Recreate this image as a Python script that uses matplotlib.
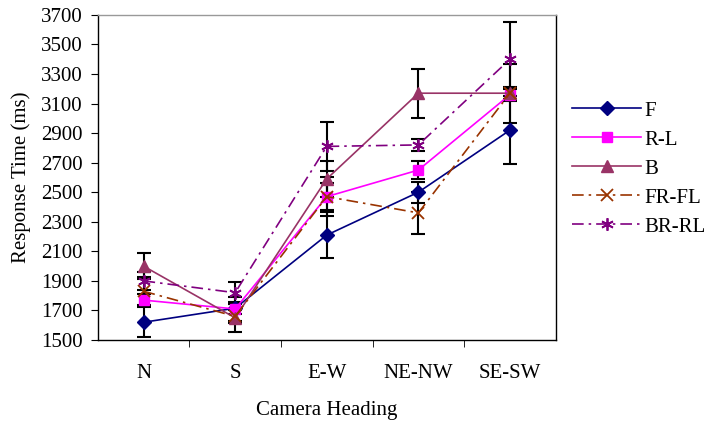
import matplotlib.pyplot as plt
import numpy as np

plt.rcParams['font.family'] = ['Liberation Serif', 'DejaVu Serif']

headings = ['N', 'S', 'E-W', 'NE-NW', 'SE-SW']

f_vals = [1620, 1715, 2210, 2500, 2920]
rl_vals = [1770, 1710, 2470, 2650, 3160]
b_vals = [2000, 1650, 2590, 3170, 3170]
frfl_vals = [1830, 1660, 2470, 2360, 3170]
brrl_vals = [1900, 1820, 2810, 2820, 3400]

f_err = [100, 40, 155, 70, 230]
rl_err = [40, 80, 90, 60, 40]
b_err = [90, 95, 120, 165, 200]
frfl_err = [95, 45, 130, 140, 40]
brrl_err = [60, 75, 165, 40, 250]

series = [
    ('F', f_vals, f_err, '#000080', 'D', '-', 7),
    ('R-L', rl_vals, rl_err, '#FF00FF', 's', '-', 7),
    ('B', b_vals, b_err, '#993366', '^', '-', 8),
    ('FR-FL', frfl_vals, frfl_err, '#993300', 'x', (0, (7, 3, 1.5, 3)), 8),
    ('BR-RL', brrl_vals, brrl_err, '#800080', (6, 2, 0), (0, (7, 3, 1.5, 3)), 9),
]

fig = plt.figure(figsize=(7.08, 4.25), dpi=100)
ax = fig.add_axes([0.138, 0.2, 0.647, 0.765])

x = np.arange(len(headings))

for name, vals, err, color, marker, ls, ms in series:
    ax.errorbar(x, vals, yerr=err, fmt='none', ecolor='black',
                elinewidth=1.5, capsize=5, capthick=1.5, zorder=2)

for name, vals, err, color, marker, ls, ms in series:
    thin = marker == 'x' or isinstance(marker, tuple)
    ax.plot(x, vals, color=color, marker=marker, linestyle=ls, lw=1.2,
            markersize=ms, markeredgewidth=1.3 if thin else 1,
            label=name, zorder=3)

ax.set_xlim(-0.5, 4.5)
ax.set_ylim(1500, 3700)
ax.set_yticks(np.arange(1500, 3701, 200))
ax.set_xticks(x)
ax.set_xticklabels(headings)
ax.set_xticks(np.arange(0.5, 4.5, 1), minor=True)
ax.tick_params(axis='x', which='major', length=0, pad=17, labelsize=15)
ax.tick_params(axis='x', which='minor', length=5, direction='out')
ax.tick_params(axis='y', length=5, direction='out', labelsize=15, pad=6)

for s in ax.spines.values():
    s.set_linewidth(1)
ax.spines['top'].set_color('#999999')

ax.set_xlabel('Camera Heading', fontsize=15, labelpad=13)
ax.set_ylabel('Response Time (ms)', fontsize=15, labelpad=7)

ax.legend(loc='upper left', bbox_to_anchor=(0.782, 0.806),
          bbox_transform=fig.transFigure, frameon=False,
          fontsize=15, handlelength=3.3, labelspacing=0.45, handletextpad=0.15)

fig.savefig('out.png', dpi=100)
